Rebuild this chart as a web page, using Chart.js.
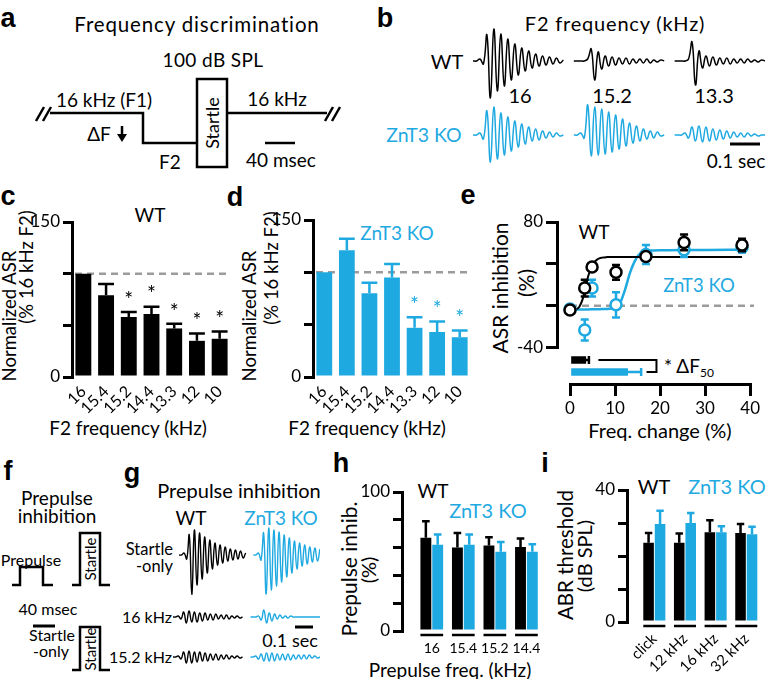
<!DOCTYPE html>
<html lang="en">
<head>
<meta charset="UTF-8">
<title>Frequency discrimination</title>
<script src="https://cdn.jsdelivr.net/npm/chart.js"></script>
<style>
  body { margin:0; width:767px; height:679px; position:relative; overflow:hidden; background:#fff;
         font-family: Lato, "Open Sans", sans-serif; color:#000; }
  canvas { position:absolute; }
  .t { position:absolute; transform:translate(-50%,-50%); white-space:nowrap; line-height:1; font-size:19px; }
  .r { transform:translate(-100%,-50%); }
  .l { transform:translate(0,-50%); }
  .rot { transform:translate(-50%,-50%) rotate(-90deg); }
  .blue { color:#1fa9e1; }
  .p { font-family:"Liberation Sans", Arial, sans-serif; font-weight:bold; font-size:27px; }
  sub { font-size:12px; vertical-align:-4px; }
</style>
</head>
<body>

<svg width="767" height="679" style="position:absolute;left:0;top:0">
  <g fill="none" stroke="#000" stroke-width="2.5">
    <!-- a: frequency discrimination protocol -->
    <path d="M36 121 L44 107 M43 121 L51 107"/>
    <polyline points="50,113 143,113 143,143 197,143"/>
    <rect x="197" y="79" width="30" height="88"/>
    <line x1="227" y1="113" x2="327" y2="113"/>
    <path d="M325 121 L333 107 M332 121 L340 107"/>
    <line x1="265" y1="143" x2="295" y2="143"/>
    <line x1="122" y1="126" x2="122" y2="136"/>
    <!-- b scale bar -->
    <line x1="730" y1="144" x2="760" y2="144" stroke-width="3"/>
    <!-- f: prepulse protocol -->
    <polyline points="12,585 20,585 20,567 43,567 43,585 53,585"/>
    <polyline points="72,585 80,585 80,533 100,533 100,585 110,585"/>
    <polyline points="72,670 80,670 80,627 100,627 100,670 110,670"/>
    <line x1="33" y1="626" x2="55" y2="626" stroke-width="3"/>
    <!-- g scale bar -->
    <line x1="295" y1="627" x2="313" y2="627" stroke-width="3"/>
  </g>
  <polygon points="117,134 127,134 122,142" fill="#000"/>
</svg>

<!-- a -->
<div class="t p" style="left:8px;top:18px">a</div>
<div class="t" style="left:197px;top:24px;font-size:20.5px;letter-spacing:0.85px">Frequency discrimination</div>
<div class="t" style="left:213px;top:59px;letter-spacing:0.4px">100 dB SPL</div>
<div class="t" style="left:104px;top:99px">16 kHz (F1)</div>
<div class="t" style="left:99px;top:133px">ΔF</div>
<div class="t" style="left:170px;top:161px">F2</div>
<div class="t" style="left:277px;top:98px">16 kHz</div>
<div class="t" style="left:281px;top:159px">40 msec</div>
<div class="t rot" style="left:212px;top:123px;font-size:18px">Startle</div>

<!-- b -->
<div class="t p" style="left:385px;top:18px">b</div>
<div class="t" style="left:615px;top:23px;font-size:20px;letter-spacing:0.8px">F2 frequency (kHz)</div>
<div class="t" style="left:447px;top:61px;font-size:20px">WT</div>
<div class="t" style="left:520px;top:95px;font-size:20px">16</div>
<div class="t" style="left:612px;top:95px;font-size:20px">15.2</div>
<div class="t" style="left:714px;top:95px;font-size:20px">13.3</div>
<div class="t blue" style="left:424px;top:135px;font-size:19.5px">ZnT3 KO</div>
<div class="t" style="left:736px;top:160px">0.1 sec</div>

<!-- c -->
<div class="t p" style="left:8px;top:196px">c</div>
<div class="t" style="left:150px;top:214px">WT</div>
<div class="t rot" style="left:9px;top:316px;font-size:18.5px">Normalized ASR</div>
<div class="t rot" style="left:26px;top:267px;font-size:18.5px">(% 16 kHz F2)</div>
<div class="t" style="left:128px;top:427px">F2 frequency (kHz)</div>

<!-- d -->
<div class="t p" style="left:235px;top:197px">d</div>
<div class="t blue" style="left:397px;top:232px">ZnT3 KO</div>
<div class="t rot" style="left:249px;top:316px;font-size:18.5px">Normalized ASR</div>
<div class="t rot" style="left:271px;top:268px;font-size:18.5px">(% 16 kHz F2)</div>
<div class="t" style="left:367px;top:427px">F2 frequency (kHz)</div>

<!-- e -->
<div class="t p" style="left:468px;top:195px">e</div>
<div class="t" style="left:594px;top:231px">WT</div>
<div class="t blue" style="left:699px;top:285px;font-size:18.5px">ZnT3 KO</div>
<div class="t rot" style="left:499px;top:288px;font-size:21px">ASR inhibition</div>
<div class="t rot" style="left:525px;top:283px;font-size:21px">(%)</div>
<div class="t l" style="left:664px;top:367px">* ΔF<sub>50</sub></div>
<div class="t" style="left:660px;top:430px;font-size:20px">Freq. change (%)</div>

<!-- f -->
<div class="t p" style="left:8px;top:471px">f</div>
<div class="t" style="left:57px;top:497px">Prepulse</div>
<div class="t" style="left:57px;top:515px">inhibition</div>
<div class="t" style="left:31px;top:560px;font-size:16px">Prepulse</div>
<div class="t" style="left:48px;top:609px;font-size:16px">40 msec</div>
<div class="t" style="left:52px;top:635px;font-size:16px">Startle</div>
<div class="t" style="left:51px;top:651px;font-size:16px">-only</div>
<div class="t rot" style="left:90px;top:559px;font-size:15px">Startle</div>
<div class="t rot" style="left:90px;top:649px;font-size:15px">Startle</div>

<!-- g -->
<div class="t p" style="left:132px;top:473px">g</div>
<div class="t" style="left:239px;top:490px;font-size:20px">Prepulse inhibition</div>
<div class="t" style="left:191px;top:517px">WT</div>
<div class="t blue" style="left:281px;top:517px">ZnT3 KO</div>
<div class="t r" style="left:173px;top:549px;font-size:16.5px">Startle</div>
<div class="t r" style="left:173px;top:566px;font-size:16.5px">-only</div>
<div class="t r" style="left:172px;top:617px;font-size:16px">16 kHz</div>
<div class="t r" style="left:172px;top:657px;font-size:16px">15.2 kHz</div>
<div class="t" style="left:290px;top:640px;font-size:18px">0.1 sec</div>

<!-- h -->
<div class="t p" style="left:341px;top:463px">h</div>
<div class="t" style="left:433px;top:490px">WT</div>
<div class="t blue" style="left:488px;top:510px;font-size:20px">ZnT3 KO</div>
<div class="t rot" style="left:348px;top:569px;font-size:21px">Prepulse inhib.</div>
<div class="t rot" style="left:368px;top:570px;font-size:20px">(%)</div>
<div class="t" style="left:450px;top:669px">Prepulse freq. (kHz)</div>

<!-- i -->
<div class="t p" style="left:545px;top:463px">i</div>
<div class="t" style="left:654px;top:486px;font-size:20px">WT</div>
<div class="t blue" style="left:727px;top:486px;font-size:20px">ZnT3 KO</div>
<div class="t rot" style="left:565px;top:555px;font-size:20.5px">ABR threshold</div>
<div class="t rot" style="left:584px;top:556px;font-size:20px">(dB SPL)</div>

<script>
  const BLACK = '#000000';
  const BLUE = '#1fa9e1';

  // c, d: normalized startle by F2 frequency
  const f2Labels = ['16', '15.4', '15.2', '14.4', '13.3', '12', '10'];
  const asrWT = [100, 79, 58, 61, 47, 35, 37];
  const asrWTErr = [0, 11, 5, 7, 4.5, 7, 7];
  const asrWTSig = [0, 0, 1, 1, 1, 1, 1];
  const asrKO = [100, 121, 80, 95, 47, 43, 38];
  const asrKOErr = [0, 11, 10, 13, 10, 10, 6.5];
  const asrKOSig = [0, 0, 0, 0, 1, 1, 1];

  // e: inhibition vs frequency change
  const changeX = [0, 3.2, 4.8, 10, 16.5, 24.8, 37.4];
  const inhWT = [-4, 17, 37, 32, 47, 60.5, 58];
  const inhWTErr = [2, 8, 3, 7, 4, 7.5, 6];
  const inhKO = [-3, -23, 17, 1, 49, 53.5, 56];
  const inhKOErr = [2, 10, 8, 12, 9, 7, 5];
  const fitX = [0, 1, 2, 3, 4, 5, 6, 7, 8, 9, 10, 11, 12, 13, 14, 15, 16, 18, 20, 25, 30, 37.4];
  const fitWT = [-4.5, -3.8, -1, 10, 29, 40, 44.5, 46, 46.5, 46.6, 46.6, 46.6, 46.6, 46.6, 46.6, 46.6, 46.6, 46.6, 46.6, 46.6, 46.6, 46.6];
  const fitKO = [-3.5, -3.5, -3.5, -3.4, -3.4, -3.3, -3.2, -3.1, -3, -2.5, -1, 4, 16, 31, 42, 49, 51.5, 52.8, 53, 53.3, 53.4, 53.5];
  const deltaLabels = ['WT', 'ZnT3 KO'];
  const deltaF50 = [3.5, 12.8];
  const deltaF50Err = [0.7, 3.0];

  // h: prepulse inhibition
  const ppLabels = ['16', '15.4', '15.2', '14.4'];
  const ppiWT = [67, 60, 61.5, 60.5];
  const ppiWTErr = [12, 10.5, 6, 6];
  const ppiKO = [62, 62, 57, 57];
  const ppiKOErr = [7.5, 7.5, 7, 5.5];

  // i: ABR thresholds
  const abrLabels = ['click', '12 kHz', '16 kHz', '32 kHz'];
  const abrWT = [24, 24, 27.2, 27];
  const abrWTErr = [3, 2.8, 3.6, 2.7];
  const abrKO = [29.7, 30, 27.2, 26.6];
  const abrKOErr = [4, 3, 1.8, 2.3];

  // b, g: startle traces (amplitude in px, up = positive)
  const bWT16 = [0, 0, 2, -3, 26, -37, 32, -30, 27, -25, 22, -19, 17, -14, 13, -10, 10, -7, 7, -5, 5, -4, 4, -3, 3, -2, 1];
  const bWT152 = [0, 0, 0, 0, 2, 12, -19, 9, -8, 5, -5, 4, -4, 3, -3, 3, -3, 2, -2, 2, -2, 2, -2, 1, -1, 1, 0];
  const bWT133 = [0, 0, 0, 0, 2, 19, -24, 10, -7, 5, -5, 4, -4, 3, -3, 3, -3, 2, -2, 2, -2, 2, -1, 1, -1, 1, 0];
  const bKO16 = [0, 0, 2, -4, 24, -27, 28, -24, 22, -20, 18, -16, 14, -12, 11, -9, 8, -6, 6, -5, 4, -3, 3, -2, 2, -1, 0];
  const bKO152 = [0, 0, 2, -3, 30, -21, 28, -20, 26, -19, 23, -17, 20, -14, 16, -11, 12, -8, 9, -6, 6, -4, 4, -3, 3, -1, 0];
  const bKO133 = [0, 0, 0, 2, -3, 8, -6, 9, -7, 8, -6, 6, -5, 5, -4, 4, -3, 3, -2, 2, -2, 2, -1, 1, -1, 0, 0];
  const gWTstartle = [0, 0, 2, -4, 20, -40, 25, -30, 22, -24, 18, -18, 15, -14, 12, -10, 10, -8, 8, -6, 6, -5, 5, -4, 4, -3, 2];
  const gKOstartle = [0, 0, 2, -5, 22, -39, 27, -35, 25, -31, 23, -27, 20, -22, 17, -18, 14, -14, 12, -11, 10, -9, 8, -7, 7, -6, 6];
  const gWT16 = [0, 0, 1, -2, 5, -6, 6, -5, 5, -5, 4, -4, 4, -3, 3, -3, 3, -2, 2, -2, 2, -2, 1, -1, 1, -1, 0];
  const gKO16 = [0, 0, 0, 1, -3, 7, -6, 4, -4, 3, -2, 2, -1, 1, -1, 1, 0, 0, 0, 0, 0, 0, 0, 0, 0, 0, 0];
  const gWT152 = [0, 0, 1, -2, 5, -6, 6, -6, 5, -5, 5, -4, 4, -4, 3, -3, 3, -3, 2, -2, 2, -2, 1, -1, 1, -1, 0];
  const gKO152 = [0, 0, 1, -2, 3, -4, 4, -4, 4, -4, 3, -3, 3, -3, 3, -3, 2, -2, 2, -2, 2, -2, 2, -1, 1, -1, 0];

  Chart.defaults.font.family = 'Lato, "Open Sans", sans-serif';
  Chart.defaults.font.size = 17;
  Chart.defaults.color = '#000';
  Chart.defaults.animation = false;
  Chart.defaults.plugins.legend.display = false;
  Chart.defaults.plugins.tooltip.enabled = false;

  function makeCanvas(left, top, w, h) {
    const c = document.createElement('canvas');
    c.width = w; c.height = h;
    c.style.cssText = `left:${left}px;top:${top}px;width:${w}px;height:${h}px`;
    document.body.appendChild(c);
    return c;
  }

  // dashed reference line, error caps, asterisks, group underlines
  const barExtras = {
    id: 'barExtras',
    beforeDatasetsDraw(chart, args, opts) {
      if (opts.refLine == null) return;
      const { ctx, chartArea } = chart;
      const y = chart.scales.y.getPixelForValue(opts.refLine);
      ctx.save();
      ctx.strokeStyle = '#9b9b9b'; ctx.lineWidth = 2.5; ctx.setLineDash([7, 5]);
      ctx.beginPath(); ctx.moveTo(chartArea.left + 3, y); ctx.lineTo(chartArea.right, y); ctx.stroke();
      ctx.restore();
    },
    afterDatasetsDraw(chart, args, opts) {
      const ctx = chart.ctx, ys = chart.scales.y;
      chart.data.datasets.forEach((ds, i) => {
        chart.getDatasetMeta(i).data.forEach((bar, j) => {
          const e = ds.errors[j];
          const top = ys.getPixelForValue(ds.data[j] + e);
          const half = bar.width * (opts.cap || 0.5) / 2;
          ctx.save();
          ctx.strokeStyle = ds.backgroundColor; ctx.fillStyle = ds.backgroundColor;
          ctx.lineWidth = 2.5;
          if (e > 0) {
            ctx.beginPath();
            ctx.moveTo(bar.x, bar.y); ctx.lineTo(bar.x, top);
            ctx.moveTo(bar.x - half, top); ctx.lineTo(bar.x + half, top);
            ctx.stroke();
          }
          if (ds.sig && ds.sig[j]) {
            ctx.font = '21px Lato'; ctx.textAlign = 'center'; ctx.textBaseline = 'middle';
            ctx.fillText('*', bar.x, top - 12);
          }
          ctx.restore();
        });
      });
      if (opts.underline) {
        const first = chart.getDatasetMeta(0).data;
        const last = chart.getDatasetMeta(chart.data.datasets.length - 1).data;
        const y = chart.chartArea.bottom + opts.underline;
        ctx.save(); ctx.strokeStyle = BLACK; ctx.lineWidth = 2.5;
        first.forEach((b, j) => {
          ctx.beginPath();
          ctx.moveTo(b.x - b.width / 2, y); ctx.lineTo(last[j].x + last[j].width / 2, y);
          ctx.stroke();
        });
        ctx.restore();
      }
    }
  };

  function barPanel(canvas, cfg) {
    const scales = {
      x: {
        grid: { display: false, drawTicks: false }, border: { display: false },
        ticks: { autoSkip: false, minRotation: cfg.rot, maxRotation: cfg.rot, padding: cfg.xPad, font: { size: cfg.xFont } },
        afterFit: s => { s.height = cfg.xHeight; }
      },
      y: {
        position: 'left', weight: 1, min: cfg.min, max: cfg.max,
        grid: { drawOnChartArea: false, tickLength: 9, lineWidth: 3, color: BLACK },
        border: { color: BLACK, width: 3 },
        ticks: { stepSize: cfg.step, padding: 3, callback: v => (v === cfg.min || v === cfg.max) ? v : '' },
        afterFit: s => { s.width = cfg.yWidth; }
      }
    };
    if (cfg.gap) {
      scales.yPad = {
        type: 'linear', position: 'left', weight: 0,
        grid: { display: false, drawTicks: false }, border: { display: false }, ticks: { display: false },
        afterFit: s => { s.width = cfg.gap; }
      };
    }
    return new Chart(canvas, {
      type: 'bar',
      data: { labels: cfg.labels, datasets: cfg.sets },
      options: {
        responsive: false,
        layout: { padding: cfg.padding },
        scales,
        plugins: { barExtras: { refLine: cfg.refLine, cap: cfg.cap, underline: cfg.underline } }
      },
      plugins: [barExtras]
    });
  }

  // c
  barPanel(makeCanvas(0, 200, 240, 222), {
    labels: f2Labels, min: 0, max: 150, step: 50, yWidth: 72, rot: 45, xPad: 5, xFont: 16, xHeight: 45,
    padding: { top: 22, right: 9, left: 0, bottom: 0 }, refLine: 100, cap: 1,
    sets: [{ data: asrWT, errors: asrWTErr, sig: asrWTSig, backgroundColor: BLACK, barPercentage: 0.7, categoryPercentage: 1 }]
  });

  // d
  barPanel(makeCanvas(240, 198, 240, 224), {
    labels: f2Labels, min: 0, max: 150, step: 50, yWidth: 73, rot: 45, xPad: 5, xFont: 16, xHeight: 45,
    padding: { top: 22, right: 9, left: 0, bottom: 0 }, refLine: 100, cap: 1,
    sets: [{ data: asrKO, errors: asrKOErr, sig: asrKOSig, backgroundColor: BLUE, barPercentage: 0.7, categoryPercentage: 1 }]
  });

  // h
  barPanel(makeCanvas(340, 470, 210, 200), {
    labels: ppLabels, min: 0, max: 100, step: 20, yWidth: 62, gap: 14, rot: 0, xPad: 9, xFont: 14, xHeight: 39,
    padding: { top: 22, right: 6, left: 0, bottom: 0 }, cap: 0.7, underline: 4,
    sets: [
      { data: ppiWT, errors: ppiWTErr, backgroundColor: BLACK, barPercentage: 0.92, categoryPercentage: 0.75 },
      { data: ppiKO, errors: ppiKOErr, backgroundColor: BLUE, barPercentage: 0.92, categoryPercentage: 0.75 }
    ]
  });

  // i
  barPanel(makeCanvas(550, 468, 217, 211), {
    labels: abrLabels, min: 0, max: 40, step: 10, yWidth: 77, gap: 12, rot: 45, xPad: 8, xFont: 15, xHeight: 57,
    padding: { top: 22, right: 0, left: 0, bottom: 0 }, cap: 0.7, underline: 4,
    sets: [
      { data: abrWT, errors: abrWTErr, backgroundColor: BLACK, barPercentage: 0.92, categoryPercentage: 0.75 },
      { data: abrKO, errors: abrKOErr, backgroundColor: BLUE, barPercentage: 0.92, categoryPercentage: 0.75 }
    ]
  });

  // e: main scatter with fits
  const inhExtras = {
    id: 'inhExtras',
    beforeDatasetsDraw(chart) {
      const { ctx } = chart, xs = chart.scales.x, ys = chart.scales.y;
      const y = ys.getPixelForValue(0);
      ctx.save();
      ctx.strokeStyle = '#9b9b9b'; ctx.lineWidth = 2.5; ctx.setLineDash([7, 5]);
      ctx.beginPath(); ctx.moveTo(xs.getPixelForValue(0), y); ctx.lineTo(xs.getPixelForValue(40), y); ctx.stroke();
      ctx.restore();
    },
    beforeDatasetDraw(chart, args) {
      const ds = chart.data.datasets[args.index];
      if (!ds.yErr) return;
      const ctx = chart.ctx, ys = chart.scales.y;
      ctx.save();
      ctx.strokeStyle = ds.borderColor; ctx.lineWidth = 2.5;
      args.meta.data.forEach((pt, j) => {
        const v = ds.data[j].y, e = ds.yErr[j];
        const y1 = ys.getPixelForValue(v + e), y2 = ys.getPixelForValue(v - e);
        ctx.beginPath();
        ctx.moveTo(pt.x, y1); ctx.lineTo(pt.x, y2);
        ctx.moveTo(pt.x - 4, y1); ctx.lineTo(pt.x + 4, y1);
        ctx.moveTo(pt.x - 4, y2); ctx.lineTo(pt.x + 4, y2);
        ctx.stroke();
      });
      ctx.restore();
    }
  };

  const pts = ys => changeX.map((x, i) => ({ x, y: ys[i] }));
  const fit = ys => fitX.map((x, i) => ({ x, y: ys[i] }));

  new Chart(makeCanvas(490, 200, 272, 161), {
    type: 'scatter',
    data: {
      datasets: [
        { data: pts(inhWT), yErr: inhWTErr, borderColor: BLACK, backgroundColor: '#fff', pointRadius: 5.5, pointBorderWidth: 2.5, order: 1, clip: false },
        { data: pts(inhKO), yErr: inhKOErr, borderColor: BLUE, backgroundColor: '#fff', pointRadius: 5.5, pointBorderWidth: 2.5, order: 2, clip: false },
        { type: 'line', data: fit(fitWT), borderColor: BLACK, borderWidth: 2, pointRadius: 0, cubicInterpolationMode: 'monotone', order: 3, clip: false },
        { type: 'line', data: fit(fitKO), borderColor: BLUE, borderWidth: 2.5, pointRadius: 0, cubicInterpolationMode: 'monotone', order: 4, clip: false }
      ]
    },
    options: {
      responsive: false,
      layout: { padding: { top: 22, right: 8, left: 0, bottom: 10 } },
      scales: {
        x: { type: 'linear', min: 0, max: 40, display: false },
        y: {
          position: 'left', weight: 1, min: -40, max: 80,
          grid: { drawOnChartArea: false, tickLength: 11, lineWidth: 3, color: BLACK },
          border: { color: BLACK, width: 3 },
          ticks: { stepSize: 40, padding: 3, callback: v => (v === -40 || v === 80) ? v : '' },
          afterFit: s => { s.width = 67; }
        },
        yPad: {
          type: 'linear', position: 'left', weight: 0,
          grid: { display: false, drawTicks: false }, border: { display: false }, ticks: { display: false },
          afterFit: s => { s.width = 13; }
        }
      }
    },
    plugins: [inhExtras]
  });

  // e: delta F50 bars with frequency-change axis
  const deltaExtras = {
    id: 'deltaExtras',
    afterDatasetsDraw(chart) {
      const ctx = chart.ctx, xs = chart.scales.x;
      const ds = chart.data.datasets[0];
      const bars = chart.getDatasetMeta(0).data;
      ctx.save(); ctx.lineWidth = 2.5;
      bars.forEach((bar, j) => {
        if (ds.data[j] == null) return;
        const xe = xs.getPixelForValue(ds.data[j] + ds.xErr[j]);
        ctx.strokeStyle = ds.backgroundColor[j];
        ctx.beginPath();
        ctx.moveTo(bar.x, bar.y); ctx.lineTo(xe, bar.y);
        ctx.moveTo(xe, bar.y - 4); ctx.lineTo(xe, bar.y + 4);
        ctx.stroke();
      });
      const yW = bars[1].y, yK = bars[2].y;
      ctx.strokeStyle = BLACK; ctx.lineWidth = 2;
      ctx.beginPath();
      ctx.moveTo(xs.getPixelForValue(6.3), yW);
      ctx.lineTo(xs.getPixelForValue(19.2), yW);
      ctx.lineTo(xs.getPixelForValue(19.2), yK);
      ctx.lineTo(xs.getPixelForValue(17), yK);
      ctx.stroke();
      ctx.restore();
    }
  };

  new Chart(makeCanvas(490, 340, 272, 74), {
    type: 'bar',
    data: {
      labels: ['', ...deltaLabels, ''],
      datasets: [{
        data: [null, ...deltaF50, null],
        xErr: [0, ...deltaF50Err, 0],
        backgroundColor: ['#fff', BLACK, BLUE, '#fff'],
        barThickness: 7
      }]
    },
    options: {
      responsive: false,
      indexAxis: 'y',
      layout: { padding: { top: 8, right: 8, left: 0, bottom: 0 } },
      scales: {
        x: {
          type: 'linear', min: 0, max: 40,
          grid: { drawOnChartArea: false, tickLength: 12, lineWidth: 3, color: BLACK },
          border: { color: BLACK, width: 3 },
          ticks: { stepSize: 10, padding: 2 },
          afterFit: s => { s.height = 30; }
        },
        y: {
          type: 'category', offset: false,
          grid: { display: false, drawTicks: false }, border: { display: false }, ticks: { display: false },
          afterFit: s => { s.width = 80; }
        }
      }
    },
    plugins: [deltaExtras]
  });

  // b, g: traces, one chart per row
  function traceRow(canvas, traces, colours, width) {
    const gap = 2;
    let n = gap * (traces.length - 1);
    traces.forEach(t => { n += t.length; });
    const labels = Array.from({ length: n }, (_, i) => i);
    const datasets = [];
    let start = 0;
    traces.forEach((t, k) => {
      const data = new Array(n).fill(null);
      t.forEach((v, i) => { data[start + i] = v; });
      datasets.push({ data, borderColor: colours[k], borderWidth: width, pointRadius: 0, tension: 0.45, spanGaps: false, clip: false });
      start += t.length + gap;
    });
    const half = canvas.height / 2;
    return new Chart(canvas, {
      type: 'line',
      data: { labels, datasets },
      options: {
        responsive: false,
        scales: { x: { display: false }, y: { display: false, min: -half, max: half } }
      }
    });
  }

  traceRow(makeCanvas(473, 21, 292, 80), [bWT16, bWT152, bWT133], [BLACK, BLACK, BLACK], 1.5);
  traceRow(makeCanvas(473, 95, 292, 80), [bKO16, bKO152, bKO133], [BLUE, BLUE, BLUE], 1.5);
  traceRow(makeCanvas(179, 515, 141, 80), [gWTstartle, gKOstartle], [BLACK, BLUE], 1.4);
  traceRow(makeCanvas(173, 597, 147, 40), [gWT16, gKO16], [BLACK, BLUE], 1.4);
  traceRow(makeCanvas(173, 637, 147, 40), [gWT152, gKO152], [BLACK, BLUE], 1.4);
</script>
</body>
</html>
